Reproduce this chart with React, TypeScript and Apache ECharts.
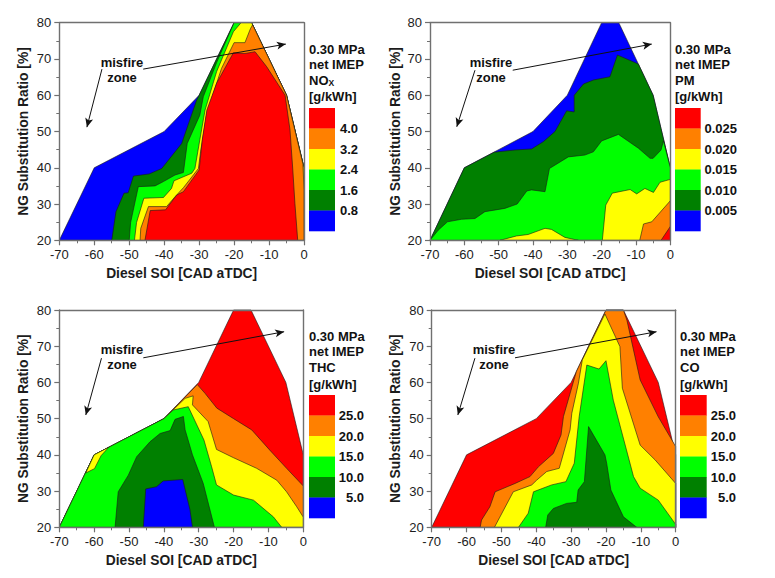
import React, { useEffect, useRef } from "react";
import * as echarts from "echarts";

type Pt = [number, number];

const RED = "#ff0000", ORANGE = "#ff8000", YELLOW = "#ffff00", GREEN = "#00ff00", DARK = "#008000", BLUE = "#0000ff";
const legendColors = [RED, ORANGE, YELLOW, GREEN, DARK, BLUE];

const envelope: Pt[] = [[-70,20],[-60,40],[-40,50],[-30,60],[-20,80],[-15,80],[-5,60],[0,40],[0,20]];

const noxLabels = ["4.0", "3.2", "2.4", "1.6", "0.8"];
const pmLabels = ["0.025", "0.020", "0.015", "0.010", "0.005"];
const thcLabels = ["25.0", "20.0", "15.0", "10.0", "5.0"];
const coLabels = ["25.0", "20.0", "15.0", "10.0", "5.0"];

const noxBands: [string, Pt[]][] = [
  [BLUE, envelope],
  [DARK, [[-55,20],[-53.8,27.9],[-51.5,33],[-50.3,33.1],[-48.8,37.7],[-44.3,38.3],[-40.7,39.8],[-35,46.7],[-30.7,58.7],[-30,60],[-20,80],[-15,80],[-5,60],[0,40],[0,20]]],
  [GREEN, [[-50,20],[-49.6,24.9],[-47.4,34.8],[-42.6,35],[-40.2,36.2],[-36.9,38],[-34.5,38.7],[-33.4,46.7],[-29.8,54.5],[-28.8,59.6],[-25,69],[-20,80],[-15,80],[-5,60],[0,40],[0,20]]],
  [YELLOW, [[-48.5,20],[-47.9,24.9],[-45.8,31.6],[-40.2,31.8],[-37.9,34.3],[-37.2,36.4],[-32.1,38.5],[-31.2,39.8],[-29.8,47.7],[-28.3,55.9],[-25,66.5],[-20.2,77.5],[-18,80],[-15,80],[-5,60],[0,40],[0,20]]],
  [ORANGE, [[-46.9,20],[-46.7,23.3],[-44.5,29.3],[-39.3,29.3],[-36.9,32],[-34.5,34.5],[-30.2,39.8],[-29.6,44.4],[-27.8,55],[-23.6,67.4],[-20,74.5],[-16.9,74.5],[-15.3,78.4],[-14.7,79.4],[-5,60],[-0.3,41],[0,34],[0,20]]],
  [RED, [[-45.5,20],[-44,28.2],[-39.6,28.4],[-36.4,32.5],[-34.5,33.4],[-30,39.4],[-29.1,47.7],[-27.8,55.9],[-25,63.3],[-20.2,71.7],[-16.9,71.5],[-14,72],[-10.7,67.9],[-5.4,60],[-4,50.4],[-3.2,39.4],[-2.6,30.2],[-1.8,20]]],
];

const pmBands: [string, Pt[]][] = [
  [BLUE, envelope],
  [DARK, [[-70,20],[-60,40],[-51.3,44.3],[-45.2,44.9],[-40.4,45.2],[-37,47.2],[-33.6,50],[-30.2,55.7],[-28,55.4],[-28,60],[-25.3,63.1],[-22.4,64.2],[-17.6,65.1],[-15.4,71.1],[-9.3,68.6],[-5,60],[0,40],[0,20]]],
  [GREEN, [[-70,20],[-67.6,22.8],[-64.9,25.1],[-60.8,25.8],[-56.9,26],[-54,27.9],[-48.2,28.8],[-44.6,30],[-41.8,33.6],[-40.4,33.9],[-36.5,33.4],[-35.2,39.8],[-29.7,43],[-24.9,43.5],[-22.4,44.4],[-20,47.4],[-15.1,49.2],[-9.3,45.4],[-5.9,42.6],[-5,42.6],[-2.7,44.9],[-2,47.4],[0,40],[0,20]]],
  [YELLOW, [[-49.6,20],[-44.8,21.2],[-41.4,21.6],[-36.5,23.3],[-34.6,23],[-30.7,20.8],[-26.8,20]]],
  [YELLOW, [[-19.8,20],[-18.8,29.7],[-16.9,33],[-11.7,34],[-9.8,32.8],[-7.4,34.3],[-4.9,33.2],[-3,36],[0,36.8],[0,20]]],
  [ORANGE, [[-8.9,20],[-7.8,24.5],[-5.4,25.1],[0,30.9],[0,20]]],
  [RED, [[-2.7,20],[0,23.8],[0,20]]],
];

const thcBands: [string, Pt[]][] = [
  [RED, envelope],
  [ORANGE, [[0,20],[0,31.4],[-4.8,36.3],[-9.6,41.3],[-14.8,46.9],[-20,50],[-24.8,52.9],[-28.2,57],[-30.4,59.4],[-40,50],[-60,40],[-70,20]]],
  [YELLOW, [[0,20],[0,22.8],[-1.9,25.7],[-4.8,29.8],[-7.6,33],[-13.4,36.3],[-20,39.2],[-24.9,41.5],[-27.3,49.2],[-31.8,53.8],[-31.6,56.3],[-33.9,55.6],[-40,50],[-60,40],[-70,20]]],
  [GREEN, [[-6.2,20],[-8.6,22.9],[-14.3,27.5],[-20,28.9],[-24.9,31.7],[-26.3,36.7],[-28.5,44.1],[-33,53.3],[-37.3,52.4],[-40,50],[-60,40],[-70,20]]],
  [YELLOW, [[-62.4,35],[-60,40],[-55.8,42.1],[-58,39.8],[-59.9,36.2]]],
  [DARK, [[-54,20],[-53.1,29.8],[-50.2,34.4],[-47.8,39.5],[-44,43.6],[-41.1,45.9],[-38.2,46.7],[-36.8,49.8],[-34.4,50.6],[-33.9,46.9],[-31.8,40],[-28.7,32.1],[-25.5,20]]],
  [BLUE, [[-45.9,20],[-45.2,30.6],[-42.1,31.2],[-40.2,32.8],[-34.6,33.2],[-32.5,24.8],[-31.8,20]]],
];

const coBands: [string, Pt[]][] = [
  [RED, envelope],
  [ORANGE, [[-56.1,20],[-55.7,22],[-53.3,25.7],[-51.8,29.8],[-46.1,32.1],[-41.8,34],[-39.4,36.7],[-35.1,40.4],[-32.9,45.5],[-32.2,50.6],[-28.5,63],[-20,80],[-15,80],[-14,77.2],[-10.2,60.7],[-5,50.5],[0,42.3],[0,20]]],
  [YELLOW, [[-52,20],[-46.6,29.8],[-41.3,31.7],[-39.9,33],[-37,35.4],[-33.4,36.3],[-30.3,46.9],[-29.8,51.5],[-27.9,59.8],[-26.8,66.2],[-20.3,78.9],[-16,69.9],[-15.3,58.4],[-10.2,42.7],[-5.9,38.6],[0,32.1],[0,20]]],
  [GREEN, [[-45.1,20],[-42.3,23.9],[-40.8,29.8],[-35.6,31.7],[-31.5,32.6],[-29.1,37.7],[-27.7,50.5],[-25.5,64.8],[-22,63.7],[-20,66],[-17.9,55.1],[-12.1,34],[-10.2,30.8],[-5,27.5],[0,20.8],[0,20]]],
  [DARK, [[-37.3,20],[-36.7,23.4],[-35.1,25.2],[-31.3,26.6],[-28.4,26.9],[-28,30.3],[-26.2,32.6],[-25,47.8],[-20.3,40],[-19.8,37.7],[-18.6,30.3],[-15,22.9],[-11.2,20]]],
];

const xTicksFrame = { min: -70, max: 0, interval: 10 };
const yTicksFrame = { min: 20, max: 80, interval: 10 };

const panels = [
  { bands: noxBands, labels: noxLabels, species: "NO{s|X}", g: [59.3, 22.7, 244.7, 217.6], leg: [309, 108, 26], title: [309, 49, 64.5, 80, 96.5], rightEdge: 358, name: 23, misfire: 122, arrowA: [[-57.8, 67.2], [-62.1, 51.2]] as [Pt, Pt], arrowB: [[-46, 67.2], [-5.2, 74.1]] as [Pt, Pt] },
  { bands: pmBands, labels: pmLabels, species: "PM", g: [430, 22.7, 240.3, 217.6], leg: [675, 108, 25.7], title: [675, 49, 64.5, 80, 96.5], rightEdge: 737, name: 395, misfire: 491, arrowA: [[-56.9, 66.9], [-62.2, 51.3]] as [Pt, Pt], arrowB: [[-45.9, 66.9], [-5.4, 74.1]] as [Pt, Pt] },
  { bands: thcBands, labels: thcLabels, species: "THC", g: [59.3, 310, 244, 217.3], leg: [309, 395, 26], title: [309, 336.5, 351.5, 367, 384], rightEdge: 364, name: 23, misfire: 122, arrowA: [[-57.9, 66.7], [-62.4, 51]] as [Pt, Pt], arrowB: [[-45.9, 66.8], [-5.5, 74]] as [Pt, Pt] },
  { bands: coBands, labels: coLabels, species: "CO", g: [431.7, 310, 244, 217.3], leg: [680, 395, 26.7], title: [680, 336.5, 351.5, 367, 384], rightEdge: 736, name: 395, misfire: 494, arrowA: [[-57.6, 66.7], [-62.5, 51]] as [Pt, Pt], arrowB: [[-46.1, 66.8], [-5.5, 74]] as [Pt, Pt] },
];

const FONT = '"Liberation Sans", Arial, sans-serif';
const FRAME = "#707070";
const INK = "#1c1c1c";
const SWATCH = 20.5;

function buildOption() {
  const grids: any[] = [], xAxes: any[] = [], yAxes: any[] = [], series: any[] = [], graphics: any[] = [];
  panels.forEach((p, i) => {
    const [left, top, width, height] = p.g;
    grids.push({ left, top, width, height, show: false, containLabel: false });
    xAxes.push({
      type: "value", gridIndex: i, ...xTicksFrame, position: "bottom", z: 10,
      name: "Diesel SOI [CAD aTDC]", nameLocation: "middle", nameGap: 26,
      nameTextStyle: { fontFamily: FONT, fontWeight: "bold", fontSize: 13.8, color: INK },
      axisLine: { show: true, onZero: false, lineStyle: { color: FRAME, width: 1.4 } },
      axisTick: { show: true, length: 5, inside: false, lineStyle: { color: FRAME, width: 1.2 } },
      minorTick: { show: true, splitNumber: 2, length: 3, lineStyle: { color: FRAME, width: 1 } },
      axisLabel: { fontFamily: FONT, fontSize: 13, color: INK, margin: 8, showMinLabel: true, showMaxLabel: true },
      splitLine: { show: false },
    });
    xAxes.push({
      type: "value", gridIndex: i, ...xTicksFrame, position: "top", z: 10,
      axisLine: { show: true, onZero: false, lineStyle: { color: FRAME, width: 1.4 } },
      axisTick: { show: false }, axisLabel: { show: false }, splitLine: { show: false },
    });
    yAxes.push({
      type: "value", gridIndex: i, ...yTicksFrame, position: "left", z: 10,
      name: "NG Substitution Ratio [%]", nameLocation: "middle", nameGap: p.g[0] - p.name - 7, nameRotate: 90,
      nameTextStyle: { fontFamily: FONT, fontWeight: "bold", fontSize: 13.8, color: INK },
      axisLine: { show: true, onZero: false, lineStyle: { color: FRAME, width: 1.4 } },
      axisTick: { show: true, length: 5, lineStyle: { color: FRAME, width: 1.2 } },
      minorTick: { show: true, splitNumber: 2, length: 3, lineStyle: { color: FRAME, width: 1 } },
      axisLabel: { fontFamily: FONT, fontSize: 13, color: INK, margin: 8, showMinLabel: true, showMaxLabel: true },
      splitLine: { show: false },
    });
    yAxes.push({
      type: "value", gridIndex: i, ...yTicksFrame, position: "right", z: 10,
      axisLine: { show: true, onZero: false, lineStyle: { color: FRAME, width: 1.4 } },
      axisTick: { show: false }, axisLabel: { show: false }, splitLine: { show: false },
    });
    const bands = p.bands;
    series.push({
      type: "custom", xAxisIndex: i * 2, yAxisIndex: i * 2, coordinateSystem: "cartesian2d", silent: true, clip: false, z: 3,
      data: bands.map((b) => ({ value: [b[1][0][0], b[1][0][1]] })),
      renderItem: (params: any, api: any) => {
        const band = bands[params.dataIndex];
        return {
          type: "polygon",
          shape: { points: band[1].map((pt) => api.coord(pt)) },
          style: { fill: band[0], stroke: "#1a1a1a", lineWidth: 0.6 },
        };
      },
      markLine: {
        silent: true, animation: false, z: 6, precision: 4,
        lineStyle: { color: "#111", width: 1, type: "solid" }, label: { show: false },
        symbolSize: [6, 9],
        data: [p.arrowA, p.arrowB].map((a) => [
          { coord: a[0], symbol: "none" },
          { coord: a[1], symbol: "arrow" },
        ]),
      },
    });
    // misfire zone annotation
    graphics.push(
      { type: "text", x: p.misfire, y: p.g[1] + 39.5, z: 50, style: { text: "misfire", font: `bold 13px ${FONT}`, fill: "#111", align: "center", verticalAlign: "middle" } },
      { type: "text", x: p.misfire, y: p.g[1] + 54.5, z: 50, style: { text: "zone", font: `bold 13px ${FONT}`, fill: "#111", align: "center", verticalAlign: "middle" } },
    );
    // title block
    const [tx, ty0, ty1, ty2, ty3] = p.title;
    const titleStyle = { font: `bold 13px ${FONT}`, fill: "#111", align: "left", verticalAlign: "middle" };
    graphics.push(
      { type: "text", x: tx, y: ty0, z: 50, style: { ...titleStyle, text: "0.30 MPa" } },
      { type: "text", x: tx, y: ty1, z: 50, style: { ...titleStyle, text: "net IMEP" } },
      { type: "text", x: tx, y: ty2, z: 50, style: { ...titleStyle, text: p.species, rich: { s: { font: `bold 8.5px ${FONT}`, fill: "#111", verticalAlign: "bottom", padding: [5, 0, 0, 0] } } } },
      { type: "text", x: tx, y: ty3, z: 50, style: { ...titleStyle, text: "[g/kWh]" } },
    );
    // legend
    const [lx, ly, lw] = p.leg;
    legendColors.forEach((c, k) => {
      graphics.push({ type: "rect", z: 50, shape: { x: lx, y: ly + k * SWATCH, width: lw, height: SWATCH + 0.3 }, style: { fill: c } });
    });
    p.labels.forEach((t, k) => {
      graphics.push({ type: "text", x: p.rightEdge, y: ly + (k + 1) * SWATCH, z: 50, style: { text: t, font: `bold 13px ${FONT}`, fill: "#111", align: "right", verticalAlign: "middle" } });
    });
  });
  return { animation: false, backgroundColor: "#fff", grid: grids, xAxis: xAxes, yAxis: yAxes, series, graphic: graphics };
}

export default function App() {
  const ref = useRef<HTMLDivElement>(null);
  useEffect(() => {
    document.body.style.margin = "0";
    const chart = echarts.init(ref.current!, undefined, { renderer: "svg" });
    chart.setOption(buildOption() as any);
    return () => chart.dispose();
  }, []);
  return <div ref={ref} style={{ width: 775, height: 578 }} />;
}
